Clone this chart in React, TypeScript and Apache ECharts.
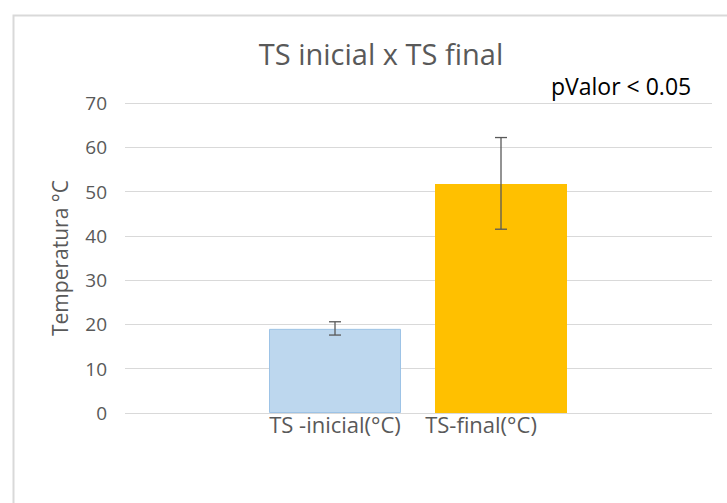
import React, { useEffect, useRef } from "react";
import * as echarts from "echarts";

const categories = ["TS -inicial(°C)", "TS-final(°C)"];
const meanValues = [19.0, 51.7];
const errLow = [17.6, 41.5];
const errHigh = [20.6, 62.2];
const yTicks = { min: 0, max: 70, interval: 10 };
const titleText = "TS inicial x TS final";
const noteText = "pValor < 0.05";
const yAxisName = "Temperatura °C";

const FONT = "'Open Sans', sans-serif";
const GREY = "#595959";

export default function App() {
  const ref = useRef<HTMLDivElement>(null);
  useEffect(() => {
    document.body.style.margin = "0";
    const chart = echarts.init(ref.current!, undefined, { renderer: "svg" });
    const barColors = [
      { color: "#BDD7EE", borderColor: "#9DC3E6", borderWidth: 1 },
      { color: "#FFC000", borderColor: "#FFC000", borderWidth: 0 },
    ];
    const labelStyle = { color: GREY, fontSize: 22, fontFamily: FONT };
    chart.setOption({
      animation: false,
      backgroundColor: "#ffffff",
      textStyle: { fontFamily: FONT },
      title: {
        text: titleText,
        left: 376,
        textAlign: "center",
        top: 34,
        textStyle: { fontFamily: FONT, fontSize: 29, fontWeight: "normal", color: GREY },
      },
      graphic: [
        {
          type: "rect",
          shape: { x: 13.5, y: 15.5, width: 760, height: 520 },
          style: { fill: "none", stroke: "#D9D9D9", lineWidth: 2 },
          silent: true,
        },
        {
          type: "text",
          left: 551,
          top: 74,
          style: { text: noteText, fontFamily: FONT, fontSize: 23, fill: "#000000" },
        },
      ],
      grid: [
        { left: 125, right: 15, top: 103, bottom: 90 },
        { left: 252, width: 332, top: 103, bottom: 90 },
      ],
      xAxis: [
        { type: "category", gridIndex: 0, data: [""], show: false },
        {
          type: "category",
          gridIndex: 1,
          data: categories,
          axisLine: { show: false },
          axisTick: { show: false },
          axisLabel: {
            ...labelStyle,
            margin: 0,
            interval: 0,
            hideOverlap: false,
            formatter: (v: string, i: number) => (i === 1 ? `{b|${v}}` : `{a|${v}}`),
            rich: {
              a: { ...labelStyle },
              b: { ...labelStyle, padding: [0, 40, 0, 0] },
            },
          },
        },
      ],
      yAxis: [
        {
          type: "value",
          gridIndex: 0,
          ...yTicks,
          name: yAxisName,
          nameLocation: "middle",
          nameGap: 55,
          nameTextStyle: { color: GREY, fontSize: 21, fontFamily: FONT },
          axisLine: { show: false },
          axisTick: { show: false },
          axisLabel: { color: GREY, fontSize: 19, fontFamily: FONT, margin: 18 },
          splitLine: { lineStyle: { color: "#D9D9D9", width: 1 } },
        },
        { type: "value", gridIndex: 1, ...yTicks, show: false },
      ],
      series: [
        {
          type: "bar",
          xAxisIndex: 1,
          yAxisIndex: 1,
          barWidth: 132,
          data: meanValues.map((v, i) => ({ value: v, itemStyle: barColors[i] })),
        },
        {
          type: "custom",
          xAxisIndex: 1,
          yAxisIndex: 1,
          data: categories.map((_, i) => [i, errLow[i], errHigh[i]]),
          renderItem: (params: any, api: any) => {
            const x = api.value(0);
            const lo = api.coord([x, api.value(1)]);
            const hi = api.coord([x, api.value(2)]);
            const hw = 6;
            const style = { stroke: GREY, lineWidth: 1.3 };
            return {
              type: "group",
              children: [
                { type: "line", shape: { x1: lo[0], y1: lo[1], x2: hi[0], y2: hi[1] }, style },
                { type: "line", shape: { x1: lo[0] - hw, y1: lo[1], x2: lo[0] + hw, y2: lo[1] }, style },
                { type: "line", shape: { x1: hi[0] - hw, y1: hi[1], x2: hi[0] + hw, y2: hi[1] }, style },
              ],
            };
          },
          z: 5,
        },
      ],
    });
    return () => chart.dispose();
  }, []);
  return <div ref={ref} style={{ width: 727, height: 503 }} />;
}
